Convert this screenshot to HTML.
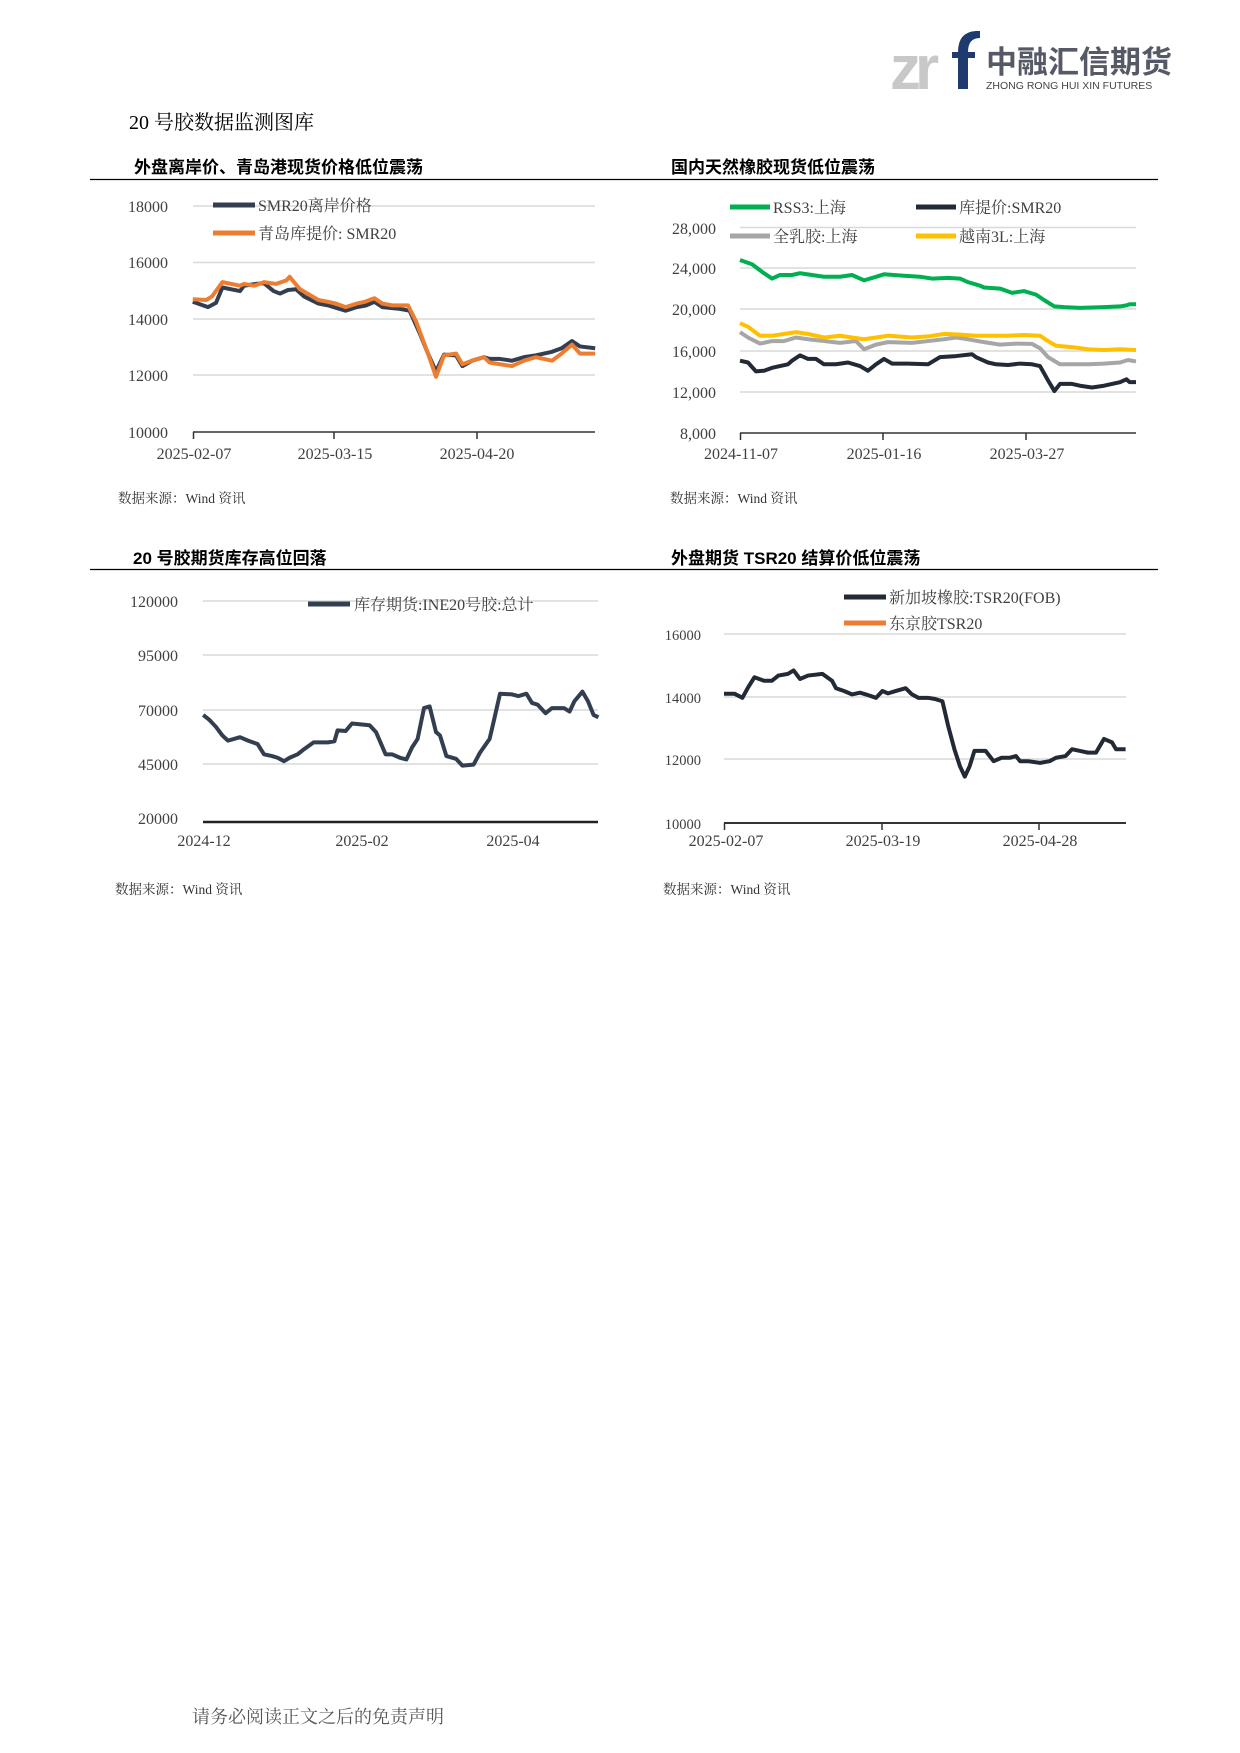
<!DOCTYPE html>
<html><head><meta charset="utf-8"><style>
body{margin:0;background:#fff}
#p{position:relative;width:1240px;height:1753px;overflow:hidden;background:#fff}
.t{position:absolute;white-space:nowrap}
.s{font-family:"Liberation Serif","Noto Serif CJK SC",serif}
.h{font-family:"Liberation Sans","Noto Sans CJK SC",sans-serif;font-weight:bold}
svg{position:absolute;left:0;top:0}
</style></head><body><div id="p">
<svg width="1240" height="1753" xmlns="http://www.w3.org/2000/svg">
<!-- logo -->
<text x="890" y="89" font-family="Liberation Sans,sans-serif" font-weight="bold" font-size="62" fill="#c8c8c8" letter-spacing="-6">zr</text>
<path d="M958 89 V52 Q958 32 976 31 L980 31 V38 Q968 38 968 52 V89 Z M952 52 H975 V58 H952 Z" fill="#1f3a6e"/>
<text x="986" y="73" font-family="Liberation Sans,Noto Sans CJK SC,sans-serif" font-weight="bold" font-size="31" fill="#555a66">中融汇信期货</text>
<text x="986" y="89" font-family="Liberation Sans,sans-serif" font-size="10.5" fill="#444">ZHONG RONG HUI XIN FUTURES</text>
<!-- rules -->
<line x1="90" y1="179.5" x2="1158" y2="179.5" stroke="#000" stroke-width="1.2"/>
<line x1="90" y1="569.5" x2="1158" y2="569.5" stroke="#000" stroke-width="1.2"/>
<g stroke="#d9d9d9" stroke-width="1.5">
<line x1="193" y1="206" x2="595" y2="206"/><line x1="193" y1="262.5" x2="595" y2="262.5"/><line x1="193" y1="319" x2="595" y2="319"/><line x1="193" y1="375" x2="595" y2="375"/>
<line x1="740" y1="227.5" x2="1136" y2="227.5"/><line x1="740" y1="268" x2="1136" y2="268"/><line x1="740" y1="309" x2="1136" y2="309"/><line x1="740" y1="351" x2="1136" y2="351"/><line x1="740" y1="392" x2="1136" y2="392"/>
<line x1="203" y1="601" x2="598" y2="601"/><line x1="203" y1="655" x2="598" y2="655"/><line x1="203" y1="710" x2="598" y2="710"/><line x1="203" y1="764" x2="598" y2="764"/>
<line x1="724" y1="634" x2="1126" y2="634"/><line x1="724" y1="697" x2="1126" y2="697"/><line x1="724" y1="759" x2="1126" y2="759"/>
</g>
<g stroke="#333" stroke-width="1.5" fill="none">
<line x1="193" y1="432" x2="595" y2="432"/><path d="M193.5 432v7M334 432v7M477 432v7"/>
<line x1="740" y1="433" x2="1136" y2="433"/><path d="M740.5 433v7M883 433v7M1026 433v7"/>
<line x1="203" y1="822" x2="598" y2="822" stroke-width="2.5" stroke="#222"/>
<line x1="724" y1="823" x2="1126" y2="823" stroke-width="2"/><path d="M724.5 823v7M882 823v7M1039 823v7"/>
</g>
<g transform="scale(0.8,0.35714)" fill="none" stroke-width="4" stroke-linejoin="round">
<polyline vector-effect="non-scaling-stroke" stroke="#333f50" points="241,845 260,860 270,848 278,805 300,815 305,800 320,795 330,793 342,815 350,822 360,812 370,810 380,830 398,850 410,855 420,862 432,870 446,860 458,855 468,845 478,860 500,865 512,870 525,935 535,990 545,1040 555,993 570,995 578,1025 590,1010 605,1000 612,1005 625,1005 640,1010 655,1000 670,995 690,985 702,975 715,955 725,970 744,975"/>
<polyline vector-effect="non-scaling-stroke" stroke="#ed7d31" points="241,838 258,840 265,830 278,790 300,800 305,795 318,800 330,790 345,795 358,785 362,775 375,810 398,840 410,845 420,850 432,860 446,850 456,845 468,835 478,850 490,855 510,855 520,900 535,990 545,1055 555,995 570,990 578,1020 590,1010 605,1000 612,1015 625,1020 640,1025 655,1010 670,1000 690,1010 702,990 715,965 725,990 744,990"/>
<polyline vector-effect="non-scaling-stroke" stroke="#00b050" points="925,728 940,740 955,765 965,780 975,770 990,770 1000,765 1015,770 1030,775 1050,775 1065,770 1080,785 1095,775 1105,768 1130,772 1150,775 1165,780 1185,778 1200,780 1210,790 1225,800 1230,805 1250,808 1265,820 1280,815 1295,825 1305,840 1318,858 1330,860 1350,862 1380,860 1400,858 1408,855 1412,852 1420,852"/>
<polyline vector-effect="non-scaling-stroke" stroke="#a6a6a6" points="925,930 935,945 950,962 965,955 980,955 995,945 1010,950 1030,955 1050,960 1070,955 1080,978 1095,965 1110,958 1140,960 1160,955 1180,950 1195,945 1210,950 1230,958 1250,965 1270,962 1290,963 1300,975 1310,1000 1325,1020 1340,1020 1360,1020 1380,1018 1400,1015 1410,1008 1420,1012"/>
<polyline vector-effect="non-scaling-stroke" stroke="#ffc000" points="925,905 935,915 950,940 965,940 980,935 995,930 1010,935 1030,945 1050,940 1065,945 1080,950 1095,945 1110,940 1140,945 1160,942 1180,935 1200,937 1220,940 1240,940 1260,940 1280,938 1300,940 1310,955 1320,968 1340,972 1360,978 1380,980 1400,978 1420,980"/>
<polyline vector-effect="non-scaling-stroke" stroke="#222a35" points="925,1010 935,1015 945,1040 955,1038 965,1030 975,1025 985,1020 990,1010 1000,995 1010,1005 1020,1005 1030,1020 1045,1020 1060,1015 1075,1025 1085,1038 1095,1020 1105,1005 1115,1018 1135,1018 1160,1020 1175,1000 1195,997 1215,992 1220,1000 1235,1015 1245,1020 1260,1022 1275,1018 1290,1020 1300,1025 1310,1065 1318,1095 1325,1075 1340,1075 1350,1080 1365,1085 1380,1080 1390,1075 1400,1070 1408,1062 1412,1070 1420,1070"/>
</g>
<g transform="translate(0,530) scale(0.8,0.3425)" fill="none" stroke-width="4" stroke-linejoin="round">
<polyline vector-effect="non-scaling-stroke" stroke="#333f50" points="254,540 262,555 270,575 278,600 285,615 300,605 310,615 322,625 330,655 340,660 347,665 355,675 362,665 372,655 380,640 392,620 410,620 418,617 422,585 432,587 440,565 462,570 470,590 482,655 490,655 500,665 508,670 515,635 522,610 530,520 537,515 545,590 550,600 558,660 570,668 578,688 592,685 600,650 612,610 618,550 625,478 640,480 648,485 658,478 665,505 672,510 682,535 690,520 705,520 712,530 718,500 728,472 735,500 742,540 748,547"/>
<polyline vector-effect="non-scaling-stroke" stroke="#222a35" points="905,478 918,478 928,490 935,460 943,430 955,440 965,440 973,425 985,420 992,410 1000,435 1010,425 1028,420 1040,440 1045,462 1055,470 1065,480 1075,475 1085,482 1095,490 1103,470 1110,477 1120,470 1132,462 1140,480 1148,490 1160,490 1168,493 1178,500 1185,570 1193,640 1200,690 1206,720 1212,690 1218,645 1232,645 1242,675 1252,665 1262,665 1270,660 1275,675 1285,675 1300,680 1312,675 1320,665 1332,660 1340,640 1350,645 1360,650 1370,650 1380,610 1390,620 1395,640 1407,640"/>
</g>
<g stroke-width="5">
<line x1="213" y1="205" x2="255" y2="205" stroke="#333f50"/><line x1="213" y1="233" x2="255" y2="233" stroke="#ed7d31"/>
<line x1="730" y1="207" x2="770" y2="207" stroke="#00b050"/><line x1="916" y1="207" x2="956" y2="207" stroke="#222a35"/>
<line x1="730" y1="236" x2="770" y2="236" stroke="#a6a6a6"/><line x1="916" y1="236" x2="956" y2="236" stroke="#ffc000"/>
<line x1="308" y1="604" x2="350" y2="604" stroke="#333f50"/>
<line x1="844" y1="597" x2="886" y2="597" stroke="#222a35"/><line x1="844" y1="623" x2="886" y2="623" stroke="#ed7d31"/>
</g>
<g font-family="Liberation Serif,Noto Serif CJK SC,serif" font-size="16" fill="#404040">
<text x="258" y="211">SMR20离岸价格</text><text x="258" y="239">青岛库提价: SMR20</text>
<text x="773" y="213">RSS3:上海</text><text x="959" y="213">库提价:SMR20</text>
<text x="773" y="242">全乳胶:上海</text><text x="959" y="242">越南3L:上海</text>
<text x="354" y="610">库存期货:INE20号胶:总计</text>
<text x="889" y="603">新加坡橡胶:TSR20(FOB)</text><text x="889" y="629">东京胶TSR20</text>
<g text-anchor="end">
<text x="168" y="212">18000</text><text x="168" y="268">16000</text><text x="168" y="325">14000</text><text x="168" y="381">12000</text><text x="168" y="438">10000</text>
<text x="716" y="234">28,000</text><text x="716" y="274">24,000</text><text x="716" y="315">20,000</text><text x="716" y="357">16,000</text><text x="716" y="398">12,000</text><text x="716" y="439">8,000</text>
<text x="178" y="607">120000</text><text x="178" y="661">95000</text><text x="178" y="716">70000</text><text x="178" y="770">45000</text><text x="178" y="824">20000</text>
</g>
<g font-size="14.5" text-anchor="end"><text x="701" y="640">16000</text><text x="701" y="703">14000</text><text x="701" y="765">12000</text><text x="701" y="829">10000</text></g>
<g text-anchor="middle">
<text x="194" y="459">2025-02-07</text><text x="335" y="459">2025-03-15</text><text x="477" y="459">2025-04-20</text>
<text x="741" y="459">2024-11-07</text><text x="884" y="459">2025-01-16</text><text x="1027" y="459">2025-03-27</text>
<text x="204" y="846">2024-12</text><text x="362" y="846">2025-02</text><text x="513" y="846">2025-04</text>
<text x="726" y="846">2025-02-07</text><text x="883" y="846">2025-03-19</text><text x="1040" y="846">2025-04-28</text>
</g>
<g font-size="13.5" fill="#333">
<text x="118" y="503">数据来源：Wind 资讯</text><text x="670" y="503">数据来源：Wind 资讯</text>
<text x="115" y="894">数据来源：Wind 资讯</text><text x="663" y="894">数据来源：Wind 资讯</text>
</g>
</g>
</svg>
<div class="t s" style="left:129px;top:106px;font-size:20px;color:#000">20 号胶数据监测图库</div>
<div class="t h" style="left:134px;top:153px;font-size:17px">外盘离岸价、青岛港现货价格低位震荡</div>
<div class="t h" style="left:671px;top:153px;font-size:17px">国内天然橡胶现货低位震荡</div>
<div class="t h" style="left:133px;top:544px;font-size:17px">20 号胶期货库存高位回落</div>
<div class="t h" style="left:671px;top:544px;font-size:17px">外盘期货 TSR20 结算价低位震荡</div>
<div class="t s" style="left:192px;top:1703px;font-size:18px;color:#555">请务必阅读正文之后的免责声明</div>
</div></body></html>
